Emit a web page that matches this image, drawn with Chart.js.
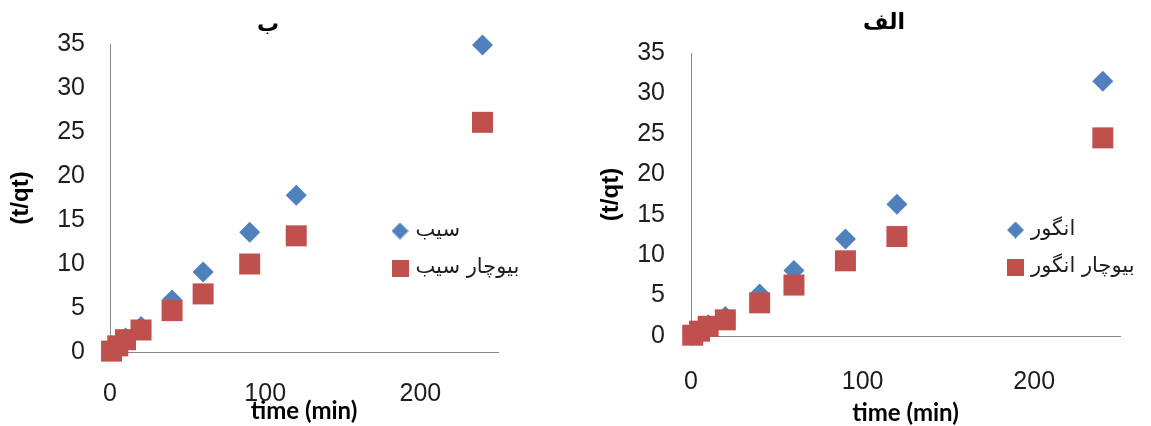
<!DOCTYPE html>
<html>
<head>
<meta charset="utf-8">
<script src="https://cdn.jsdelivr.net/npm/chart.js"></script>
<style>
  html, body { margin: 0; padding: 0; background: #fff; }
  body { width: 1151px; height: 426px; position: relative; overflow: hidden; }
  canvas { position: absolute; top: 0; }
  #apple { left: 0; }
  #grape { left: 580px; }
</style>
</head>
<body>
<canvas id="apple" width="575" height="426"></canvas>
<canvas id="grape" width="571" height="426"></canvas>
<script>
// Sampling times (min) shared by every series
const timeMin = [1, 5, 10, 20, 40, 60, 90, 120, 240];

// t/qt values, panel "ب" (apple)
const appleTq        = [0.1, 0.8, 1.6, 2.9, 5.9, 9.1, 13.6, 17.8, 34.9];
const appleBiocharTq = [0.1, 0.7, 1.4, 2.5, 4.7, 6.6, 10.0, 13.2, 26.1];

// t/qt values, panel "الف" (grape)
const grapeTq        = [0.1, 0.7, 1.4, 2.4, 5.2, 8.1, 12.0, 16.3, 31.5];
const grapeBiocharTq = [0.1, 0.6, 1.2, 2.0, 4.1, 6.3, 9.3, 12.3, 24.5];

// Axis ticks
const xTickValues = [0, 100, 200];
const yTickValues = [0, 5, 10, 15, 20, 25, 30, 35];

// Labels
const appleNames = ['سیب', 'بیوچار سیب'];
const grapeNames = ['انگور', 'بیوچار انگور'];
const panelTitles = ['ب', 'الف'];
const xTitle = 'time (min)';
const yTitle = '(t/qt)';

const BLUE = '#4F81BD';
const RED = '#C0504D';
const AXIS = '#868686';
const TEXT = '#1e1e1e';

// Small legend swatches: diamond and square
function swatch(shape, color, size) {
  const c = document.createElement('canvas');
  c.width = size; c.height = size;
  const g = c.getContext('2d');
  g.fillStyle = color;
  g.beginPath();
  if (shape === 'diamond') {
    g.moveTo(size / 2, 0); g.lineTo(size, size / 2);
    g.lineTo(size / 2, size); g.lineTo(0, size / 2);
    g.closePath();
  } else {
    g.rect(0, 0, size, size);
  }
  g.fill();
  return c;
}
const legendIcons = [swatch('diamond', BLUE, 17), swatch('square', RED, 17)];

// Places the legend box and writes the panel heading
const panelDecor = {
  id: 'panelDecor',
  afterLayout(chart, args, opts) {
    const lg = chart.legend;
    if (lg && opts.legendLeft != null) {
      lg.left = opts.legendLeft;
      lg.top = opts.legendTop;
      lg.width = 230;
      lg.height = 130;
      lg.right = lg.left + lg.width;
      lg.bottom = lg.top + lg.height;
    }
  },
  afterDraw(chart, args, opts) {
    if (!opts.heading) return;
    const ctx = chart.ctx;
    ctx.save();
    ctx.fillStyle = '#000';
    ctx.font = 'bold 22px "DejaVu Sans"';
    ctx.textAlign = 'center';
    ctx.textBaseline = 'alphabetic';
    ctx.fillText(opts.heading, opts.headingX, opts.headingBaseline);
    ctx.restore();
  }
};

function points(values) {
  return timeMin.map((t, i) => ({ x: t, y: values[i] }));
}

function buildPanel(canvasId, title, names, seriesA, seriesB, geo) {
  return new Chart(document.getElementById(canvasId), {
    type: 'scatter',
    data: {
      datasets: [
        {
          label: names[0],
          data: points(seriesA),
          pointStyle: 'rectRot',
          pointRadius: 10.5,
          pointHoverRadius: 10.5,
          pointBorderWidth: 0,
          backgroundColor: BLUE,
          borderColor: BLUE,
          clip: false,
          order: 1
        },
        {
          label: names[1],
          data: points(seriesB),
          pointStyle: 'rect',
          pointRadius: 14.85,
          pointHoverRadius: 14.85,
          pointBorderWidth: 0,
          backgroundColor: RED,
          borderColor: RED,
          clip: false,
          order: 0
        }
      ]
    },
    options: {
      responsive: false,
      animation: false,
      events: [],
      layout: { padding: { left: 0, top: geo.plotTop, right: geo.padRight, bottom: 0 } },
      scales: {
        x: {
          type: 'linear',
          position: 'bottom',
          min: 0,
          max: 250,
          grid: { display: false, drawTicks: false },
          border: { display: true, color: AXIS, width: 1 },
          ticks: {
            includeBounds: false,
            padding: geo.xTickPad,
            color: TEXT,
            font: { family: 'Liberation Sans', size: 25 }
          },
          afterBuildTicks: s => { s.ticks = xTickValues.map(v => ({ value: v })); },
          afterFit: s => { s.height = geo.xHeight; },
          title: {
            display: true,
            text: xTitle,
            color: '#000',
            font: { family: 'Lato', size: 24, weight: 'bold' },
            padding: { top: 0, bottom: geo.xTitlePad }
          }
        },
        y: {
          type: 'linear',
          min: 0,
          max: 35,
          grid: { display: false, drawTicks: false },
          border: { display: true, color: AXIS, width: 1 },
          ticks: {
            padding: geo.yTickPad,
            color: TEXT,
            font: { family: 'Liberation Sans', size: 25 }
          },
          afterBuildTicks: s => { s.ticks = yTickValues.map(v => ({ value: v })); },
          afterFit: s => { s.width = geo.yWidth; },
          title: {
            display: true,
            text: yTitle,
            color: '#000',
            font: { family: 'Liberation Sans', size: 24, weight: 'bold' },
            padding: { top: geo.yTitlePad, bottom: 0 }
          }
        }
      },
      plugins: {
        tooltip: { enabled: false },
        title: { display: false },
        legend: {
          display: true,
          position: 'chartArea',
          align: 'start',
          labels: {
            usePointStyle: true,
            boxWidth: 10,
            boxHeight: 17,
            padding: 16,
            color: TEXT,
            font: { family: 'DejaVu Sans', size: 21 },
            generateLabels(chart) {
              const items = Chart.defaults.plugins.legend.labels.generateLabels(chart);
              items.sort((a, b) => a.datasetIndex - b.datasetIndex);
              items.forEach(it => { it.pointStyle = legendIcons[it.datasetIndex]; });
              return items;
            }
          }
        },
        panelDecor: {
          heading: title,
          headingX: geo.titleX,
          headingBaseline: geo.titleBaseline,
          legendLeft: geo.legendLeft,
          legendTop: geo.legendTop
        }
      }
    },
    plugins: [panelDecor]
  });
}

buildPanel('apple', panelTitles[0], appleNames, appleTq, appleBiocharTq, {
  padRight: 77, yWidth: 110, xHeight: 74, plotTop: 44,
  xTickPad: 27, yTickPad: 25, xTitlePad: 0, yTitlePad: 6.6,
  titleX: 268, titleBaseline: 31,
  legendLeft: 379, legendTop: 204.5
});

buildPanel('grape', panelTitles[1], grapeNames, grapeTq, grapeBiocharTq, {
  padRight: 31, yWidth: 111, xHeight: 90, plotTop: 53,
  xTickPad: 31, yTickPad: 26, xTitlePad: -2, yTitlePad: 16.6,
  titleX: 304, titleBaseline: 29,
  legendLeft: 414.5, legendTop: 203.5
});
</script>
</body>
</html>
